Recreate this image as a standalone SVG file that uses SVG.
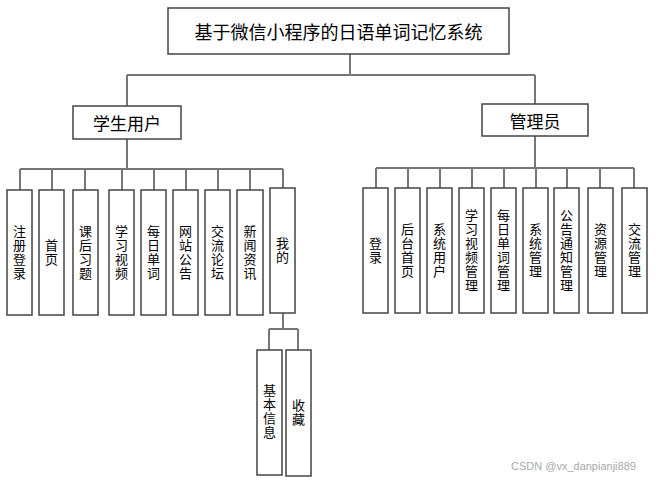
<svg xmlns="http://www.w3.org/2000/svg" width="656" height="482" viewBox="0 0 656 482">
<style>
.box{fill:#fff;stroke:#444;stroke-width:1.5}
.ln{fill:none;stroke:#777;stroke-width:2}
.t{font-family:"Noto Sans CJK SC","Noto Sans",sans-serif;fill:#000;text-anchor:middle;dominant-baseline:central}
.v{font-family:"Noto Sans CJK SC","Noto Sans",sans-serif;fill:#000;font-size:13px;text-anchor:middle;writing-mode:vertical-rl;letter-spacing:1px}
.wm{font-family:"Liberation Sans",sans-serif;font-size:11px;fill:#aaa}
</style>
<rect width="656" height="482" fill="#fff"/>
<g id="connectors">
<path class="ln" d="M350 54V75M127 75H535M127 75V106M535 75V104"/>
<path class="ln" d="M127 139V169M20 169H283M20 169V190M52 169V190M85 169V190M122 169V190M154 169V190M186 169V190M218 169V190M250 169V190M283 169V188"/>
<path class="ln" d="M535 136V168M376 168H634M376 168V188M408 168V188M440 168V188M472 168V188M504 168V188M536 168V188M567 168V188M600 168V188M634 168V188"/>
<path class="ln" d="M283 313V329M269 329H298M269 329V350M298 329V350"/>
</g>
<g id="root"><rect class="box" x="168" y="8" width="341" height="46"/><text class="t" x="338.5" y="31" font-size="18">基于微信小程序的日语单词记忆系统</text></g>
<g id="student"><rect class="box" x="73" y="106" width="108" height="33"/><text class="t" x="127" y="122.5" font-size="17">学生用户</text></g>
<g id="admin"><rect class="box" x="482" y="104" width="106" height="32"/><text class="t" x="535" y="120" font-size="17">管理员</text></g>
<g id="s1"><rect class="box" x="7" y="190" width="25" height="125"/><text class="v" x="19.5" y="253">注册登录</text></g>
<g id="s2"><rect class="box" x="39" y="190" width="25" height="125"/><text class="v" x="51.5" y="253">首页</text></g>
<g id="s3"><rect class="box" x="73" y="190" width="25" height="125"/><text class="v" x="85.5" y="253">课后习题</text></g>
<g id="s4"><rect class="box" x="109" y="190" width="25" height="125"/><text class="v" x="121.5" y="253">学习视频</text></g>
<g id="s5"><rect class="box" x="141" y="190" width="25" height="125"/><text class="v" x="153.5" y="253">每日单词</text></g>
<g id="s6"><rect class="box" x="173" y="190" width="25" height="125"/><text class="v" x="185.5" y="253">网站公告</text></g>
<g id="s7"><rect class="box" x="205" y="190" width="25" height="125"/><text class="v" x="217.5" y="253">交流论坛</text></g>
<g id="s8"><rect class="box" x="237" y="190" width="26" height="125"/><text class="v" x="250" y="253">新闻资讯</text></g>
<g id="s9"><rect class="box" x="270" y="188" width="25" height="125"/><text class="v" x="282.5" y="251">我的</text></g>
<g id="m1"><rect class="box" x="257" y="350" width="25" height="125"/><text class="v" x="269.5" y="412">基本信息</text></g>
<g id="m2"><rect class="box" x="286" y="350" width="25" height="126"/><text class="v" x="298.5" y="413">收藏</text></g>
<g id="a1"><rect class="box" x="363" y="188" width="25" height="125"/><text class="v" x="375.5" y="251">登录</text></g>
<g id="a2"><rect class="box" x="395" y="188" width="25" height="125"/><text class="v" x="407.5" y="251">后台首页</text></g>
<g id="a3"><rect class="box" x="427" y="188" width="25" height="125"/><text class="v" x="439.5" y="251">系统用户</text></g>
<g id="a4"><rect class="box" x="459" y="188" width="25" height="125"/><text class="v" x="471.5" y="251">学习视频管理</text></g>
<g id="a5"><rect class="box" x="491" y="188" width="25" height="125"/><text class="v" x="503.5" y="251">每日单词管理</text></g>
<g id="a6"><rect class="box" x="523" y="188" width="25" height="125"/><text class="v" x="535.5" y="251">系统管理</text></g>
<g id="a7"><rect class="box" x="554" y="188" width="25" height="125"/><text class="v" x="566.5" y="251">公告通知管理</text></g>
<g id="a8"><rect class="box" x="588" y="188" width="25" height="125"/><text class="v" x="600.5" y="251">资源管理</text></g>
<g id="a9"><rect class="box" x="622" y="188" width="25" height="125"/><text class="v" x="634.5" y="251">交流管理</text></g>
<text class="wm" x="511" y="470">CSDN @vx_danpianji889</text>
</svg>
